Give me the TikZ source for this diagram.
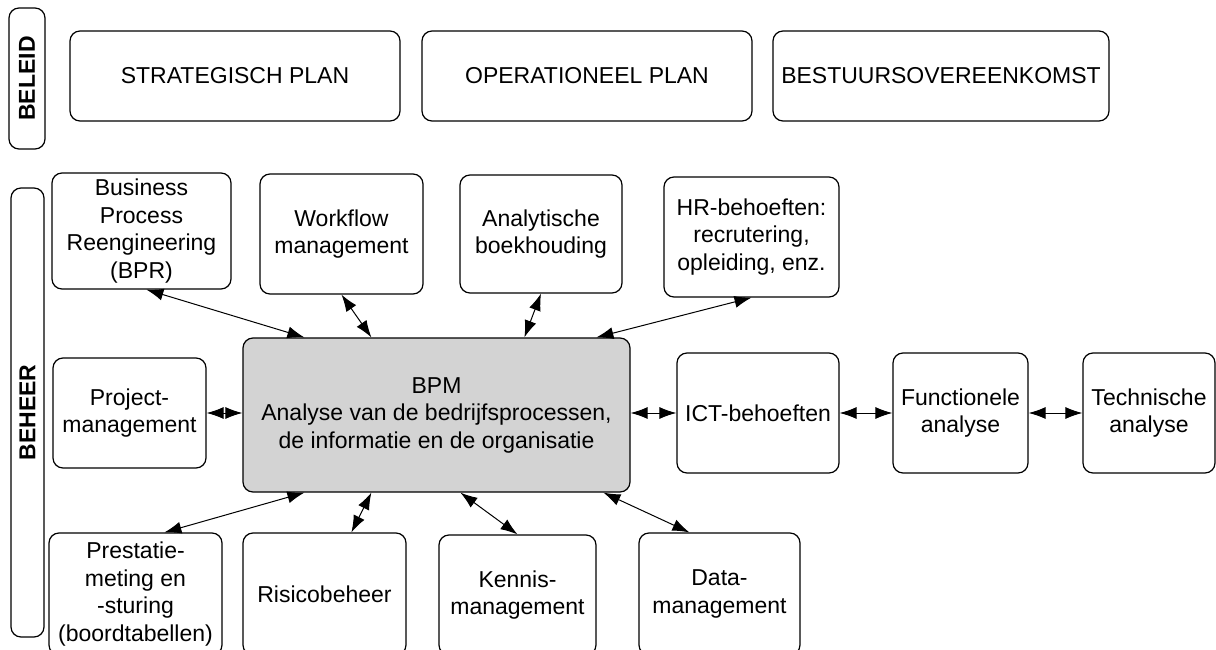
\documentclass[tikz,border=0pt]{standalone}
\usepackage{fontspec}
\setmainfont{Liberation Sans}
\usetikzlibrary{arrows.meta,calc}
\begin{document}
\begin{tikzpicture}[x=1pt,y=-1pt,
  box/.style={draw, line width=1.2pt, rounded corners=10pt, align=center, inner sep=0pt,
    font=\fontsize{23}{27.5}\selectfont},
  sidebox/.style={box, rotate=90, font=\fontsize{23}{27.5}\selectfont\bfseries},
  link/.style={line width=1pt, {Latex[length=17pt,width=12pt]}-{Latex[length=17pt,width=12pt]}}
]
\useasboundingbox (0,0) rectangle (1216,650);
\clip (0,0) rectangle (1216,650);

% BELEID
\node[sidebox, minimum width=141, minimum height=36] (beleid) at (27,78.5) {BELEID};
\node[box, minimum width=330, minimum height=90] (strat) at (235,76) {STRATEGISCH PLAN};
\node[box, minimum width=330, minimum height=90] (oper) at (587,76) {OPERATIONEEL PLAN};
\node[box, minimum width=336, minimum height=90] (best) at (941,76) {BESTUURSOVEREENKOMST};

% BEHEER
\node[sidebox, minimum width=449, minimum height=33] (beheer) at (27.5,412.5) {BEHEER};

\node[box, minimum width=179, minimum height=116] (bpr) at (141.5,231) {Business\\Process\\Reengineering\\(BPR)};
\node[box, minimum width=163, minimum height=120] (wf) at (341.5,234) {Workflow\\management};
\node[box, minimum width=162, minimum height=118] (ana) at (541,234) {Analytische\\boekhouding};
\node[box, minimum width=175, minimum height=120] (hr) at (751.5,237) {HR-behoeften:\\recrutering,\\opleiding, enz.};

\node[box, minimum width=153, minimum height=110] (proj) at (129.5,413) {Project-\\management};
\node[box, fill={rgb,255:red,211;green,211;blue,211}, minimum width=387, minimum height=154] (bpm) at (436.5,415)
  {BPM\\Analyse van de bedrijfsprocessen,\\de informatie en de organisatie};
\node[box, minimum width=162, minimum height=120] (ict) at (758,413) {ICT-behoeften};
\node[box, minimum width=135, minimum height=120] (func) at (960.5,413) {Functionele\\analyse};
\node[box, minimum width=132, minimum height=120] (tech) at (1149,413) {Technische\\analyse};

\node[box, minimum width=173, minimum height=122] (prest) at (135.5,594) {Prestatie-\\meting en\\-sturing\\(boordtabellen)};
\node[box, minimum width=163, minimum height=122] (risk) at (324.5,594) {Risicobeheer};
\node[box, minimum width=157, minimum height=120] (kennis) at (517.5,595) {Kennis-\\management};
\node[box, minimum width=161, minimum height=122] (data) at (719.5,594) {Data-\\management};

% connectors
\draw[link] ([xshift=95]bpr.south west) -- ([xshift=62]bpm.north west);
\draw[link] (wf.south) -- ([xshift=129]bpm.north west);
\draw[link] (ana.south) -- ([xshift=282]bpm.north west);
\draw[link] (hr.south) -- ([xshift=354]bpm.north west);

\draw[link] (proj.east) -- (proj.east -| bpm.west);
\draw[link] (ict.west -| bpm.east) -- (ict.west);
\draw[link] (ict.east) -- (func.west);
\draw[link] (func.east) -- (tech.west);

\draw[link] ([xshift=62]bpm.south west) -- ([xshift=116]prest.north west);
\draw[link] ([xshift=129]bpm.south west) -- ([xshift=109]risk.north west);
\draw[link] ([xshift=218]bpm.south west) -- (kennis.north);
\draw[link] ([xshift=361]bpm.south west) -- ([xshift=51]data.north west);
\end{tikzpicture}
\end{document}
